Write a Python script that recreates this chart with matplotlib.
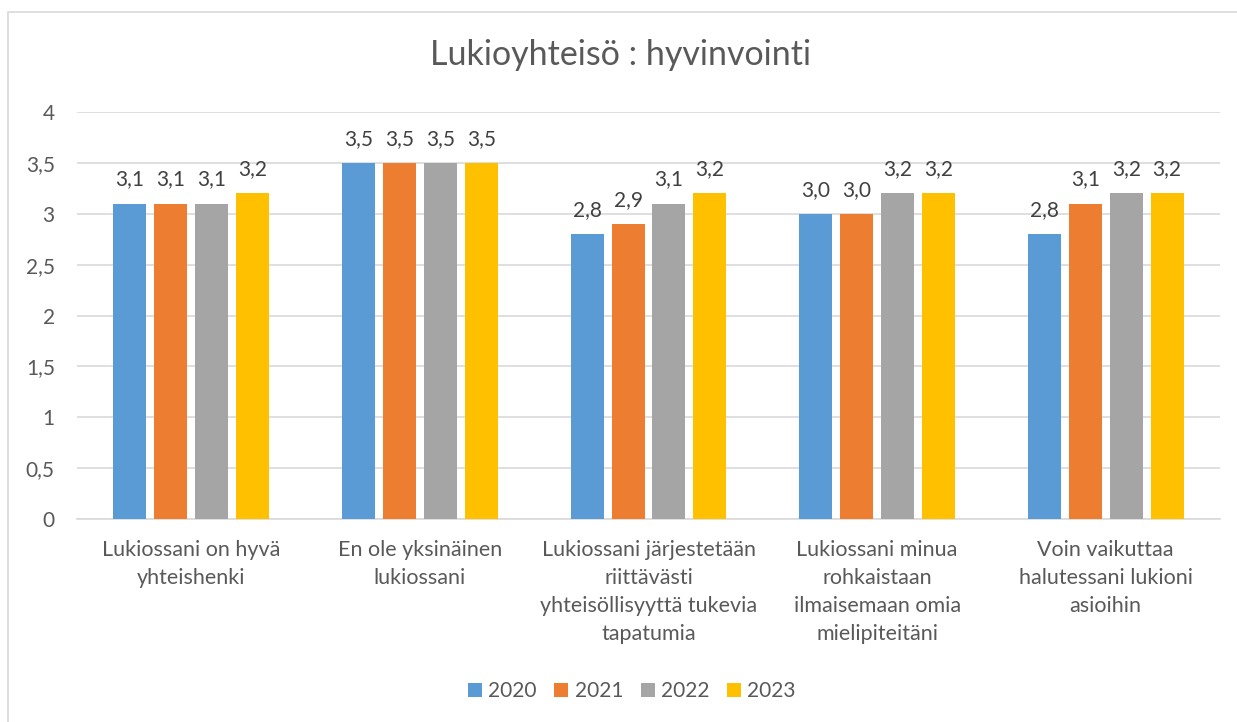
import matplotlib
matplotlib.use("Agg")
import matplotlib.pyplot as plt
import numpy as np
from matplotlib.patches import Rectangle

plt.rcParams['font.family'] = ['Lato', 'DejaVu Sans']

categories = [
    "Lukiossani on hyvä\nyhteishenki",
    "En ole yksinäinen\nlukiossani",
    "Lukiossani järjestetään\nriittävästi\nyhteisöllisyyttä tukevia\ntapatumia",
    "Lukiossani minua\nrohkaistaan\nilmaisemaan omia\nmielipiteitäni",
    "Voin vaikuttaa\nhalutessani lukioni\nasioihin",
]
years = ["2020", "2021", "2022", "2023"]
v2020 = [3.1, 3.5, 2.8, 3.0, 2.8]
v2021 = [3.1, 3.5, 2.9, 3.0, 3.1]
v2022 = [3.1, 3.5, 3.1, 3.2, 3.2]
v2023 = [3.2, 3.5, 3.2, 3.2, 3.2]
series = [v2020, v2021, v2022, v2023]
colors = ["#5B9BD5", "#ED7D31", "#A5A5A5", "#FFC000"]
yticks = [0, 0.5, 1, 1.5, 2, 2.5, 3, 3.5, 4]
ytick_labels = ["0", "0,5", "1", "1,5", "2", "2,5", "3", "3,5", "4"]

W, H = 1237, 722
fig = plt.figure(figsize=(W / 100, H / 100), dpi=100)
fig.patches.append(Rectangle((8 / W, -0.01), 1.05, 1 - 12 / H + 0.01, transform=fig.transFigure,
                             fill=False, edgecolor="#d9d9d9", linewidth=1.2))
ax = fig.add_axes([77 / W, 1 - 519 / H, (1220 - 77) / W, (519 - 112) / H])

x = np.arange(len(categories))
step = 41 / 229
bw = 33 / 229
for i, (vals, col, yr) in enumerate(zip(series, colors, years)):
    pos = x + (i - 1.5) * step
    ax.bar(pos, vals, width=bw, color=col, label=yr, zorder=3)
    for p, v in zip(pos, vals):
        ax.annotate(f"{v:.1f}".replace(".", ","), (p, v), xytext=(0, 13),
                    textcoords="offset points", ha="center", va="baseline",
                    fontsize=15, color="#404040")

ax.set_xlim(-0.5, 4.5)
ax.set_ylim(0, 4)
ax.set_yticks(yticks)
ax.set_yticklabels(ytick_labels, fontsize=15, color="#595959")
ax.set_xticks(x)
ax.set_xticklabels(categories, fontsize=15.5, color="#595959", linespacing=1.5)
ax.tick_params(axis="both", length=0)
ax.tick_params(axis="y", pad=16)
ax.tick_params(axis="x", pad=15)
ax.yaxis.grid(True, color="#d9d9d9", linewidth=1.2, zorder=0)
for s in ["top", "right", "left"]:
    ax.spines[s].set_visible(False)
ax.spines["bottom"].set_color("#d9d9d9")
ax.spines["bottom"].set_linewidth(1.2)
ax.set_axisbelow(True)

fig.text(621 / W, 1 - 65 / H, "Lukioyhteisö : hyvinvointi", ha="center", va="baseline",
         fontsize=24.5, color="#595959")

leg = fig.legend(loc="center", bbox_to_anchor=(632 / W, 1 - 691 / H), ncol=4, frameon=False,
                 fontsize=15, handlelength=0.67, handleheight=0.67, handletextpad=0.3,
                 columnspacing=0.85)
for t in leg.get_texts():
    t.set_color("#595959")

fig.savefig("out.png", dpi=100)
